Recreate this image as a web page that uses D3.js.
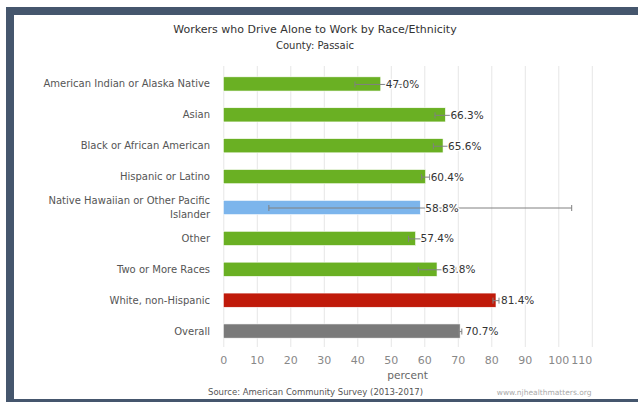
<!DOCTYPE html>
<html>
<head>
<meta charset="utf-8">
<script src="https://cdn.jsdelivr.net/npm/d3@7"></script>
<style>
  body { margin: 0; background: #fff; }
  svg { display: block; font-family: "DejaVu Sans", Verdana, sans-serif; }
</style>
</head>
<body>
<div id="chart"></div>
<script>
// data
const categories = [
  "American Indian or Alaska Native",
  "Asian",
  "Black or African American",
  "Hispanic or Latino",
  "Native Hawaiian or Other Pacific Islander",
  "Other",
  "Two or More Races",
  "White, non-Hispanic",
  "Overall"
];
const values = [47.0, 66.3, 65.6, 60.4, 58.8, 57.4, 63.8, 81.4, 70.7];
const errLow = [39.3, 63.2, 62.7, 59.2, 13.6, 55.3, 58.2, 80.5, 70.2];
const errHigh = [54.7, 69.4, 68.5, 61.6, 104.0, 59.5, 69.4, 82.3, 71.2];
const barColors = ["#6ab023", "#6ab023", "#6ab023", "#6ab023", "#7cb5ec",
  "#6ab023", "#6ab023", "#c01a0a", "#7a7a7a"];
const xTicks = [0, 10, 20, 30, 40, 50, 60, 70, 80, 90, 100, 110];

const W = 638, H = 402;
const svg = d3.select("#chart").append("svg")
  .attr("width", W).attr("height", H);

// frame
const frame = "#45566d";
svg.append("rect").attr("x", 6).attr("y", 7).attr("width", W - 6).attr("height", 8).attr("fill", frame);
svg.append("rect").attr("x", 6).attr("y", 7).attr("width", 8).attr("height", H - 7).attr("fill", frame);
svg.append("rect").attr("x", 6).attr("y", 399).attr("width", W - 6).attr("height", 3).attr("fill", frame);

const x = d3.scaleLinear().domain([0, 110]).range([223.3, 591.8]);
const y = d3.scaleBand().domain(categories).range([68.5, 346.5])
  .paddingInner(0.54).paddingOuter(0.27);

const rows = categories.map((c, i) => ({
  cat: c, value: values[i], lo: errLow[i], hi: errHigh[i], color: barColors[i]
}));

// titles
svg.append("text").attr("x", 315).attr("y", 33).attr("text-anchor", "middle")
  .attr("font-size", 11).attr("fill", "#333")
  .text("Workers who Drive Alone to Work by Race/Ethnicity");
svg.append("text").attr("x", 315).attr("y", 48.5).attr("text-anchor", "middle")
  .attr("font-size", 10).attr("fill", "#333")
  .text("County: Passaic");

// grid
svg.append("g").selectAll("line").data(xTicks).join("line")
  .attr("x1", d => x(d) + 0.5).attr("x2", d => x(d) + 0.5)
  .attr("y1", 66).attr("y2", 347)
  .attr("stroke", "#e6e6e6").attr("stroke-width", 1);

// x axis (no domain line, no ticks)
const xAxis = svg.append("g").attr("transform", "translate(0,356)")
  .call(d3.axisBottom(x).tickValues(xTicks).tickSize(0).tickPadding(0));
xAxis.select(".domain").remove();
xAxis.selectAll("text")
  .attr("font-family", "DejaVu Sans").attr("font-size", 11).attr("fill", "#888")
  .attr("dy", "0.75em")
  .filter(d => d === 110).attr("text-anchor", "end");

svg.append("text").attr("x", (x(0) + x(110)) / 2).attr("y", 378.5)
  .attr("text-anchor", "middle").attr("font-size", 10.6).attr("fill", "#666")
  .text("percent");

// bars
svg.append("g").selectAll("rect").data(rows).join("rect")
  .attr("x", x(0)).attr("y", d => y(d.cat))
  .attr("width", d => x(d.value) - x(0)).attr("height", y.bandwidth())
  .attr("fill", d => d.color)
  .attr("stroke", "#fff").attr("stroke-width", 0.6);

// error bars
const eb = svg.append("g").attr("stroke", "#808080").attr("stroke-width", 1);
rows.forEach(d => {
  const cy = y(d.cat) + y.bandwidth() / 2 + 0.5;
  eb.append("line").attr("x1", x(d.lo)).attr("x2", x(d.hi)).attr("y1", cy).attr("y2", cy);
  [d.lo, d.hi].forEach(v => {
    eb.append("line").attr("x1", x(v)).attr("x2", x(v)).attr("y1", cy - 3).attr("y2", cy + 3);
  });
});

// data labels
svg.append("g").selectAll("text").data(rows).join("text")
  .attr("x", d => x(d.value) + 5)
  .attr("y", d => y(d.cat) + y.bandwidth() / 2 + 4)
  .attr("font-size", 10.5).attr("fill", "#333")
  .attr("stroke", "#fff").attr("stroke-width", 2.5).attr("stroke-linejoin", "round")
  .attr("paint-order", "stroke")
  .text(d => d.value.toFixed(1) + "%");

// category labels with wrapping
const catG = svg.append("g");
rows.forEach(d => {
  const cy = y(d.cat) + y.bandwidth() / 2;
  const t = catG.append("text").attr("x", 210).attr("text-anchor", "end")
    .attr("font-size", 10).attr("fill", "#555");
  const words = d.cat.split(" ");
  let lines = [], line = [];
  const probe = t.append("tspan");
  words.forEach(w => {
    line.push(w);
    probe.text(line.join(" "));
    if (probe.node().getComputedTextLength() > 175 && line.length > 1) {
      line.pop();
      lines.push(line.join(" "));
      line = [w];
    }
  });
  lines.push(line.join(" "));
  probe.remove();
  const lh = 14;
  const y0 = cy + 3.5 - (lines.length - 1) * lh / 2;
  lines.forEach((l, i) => {
    t.append("tspan").attr("x", 210).attr("y", y0 + i * lh).text(l);
  });
});

// footer
svg.append("text").attr("x", 208).attr("y", 394.5)
  .attr("font-size", 8.5).attr("fill", "#555")
  .text("Source: American Community Survey (2013-2017)");
svg.append("text").attr("x", 591.5).attr("y", 394.5).attr("text-anchor", "end")
  .attr("font-size", 7.5).attr("fill", "#aaa")
  .text("www.njhealthmatters.org");
</script>
</body>
</html>
